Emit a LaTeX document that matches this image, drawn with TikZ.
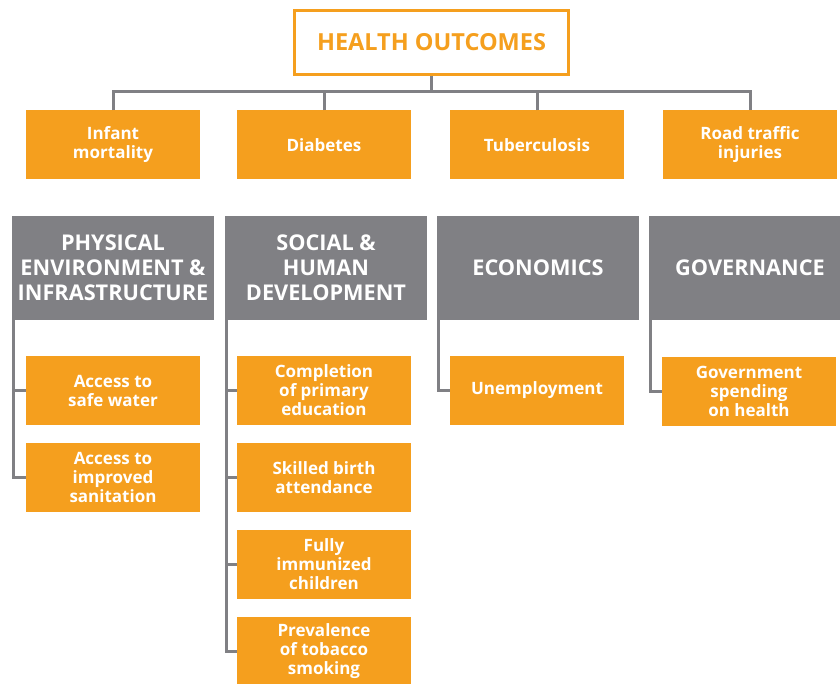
\documentclass[tikz,border=0pt]{standalone}
\usepackage{fontspec}
\setmainfont{Open Sans}
\definecolor{org}{HTML}{F59F1E}
\definecolor{gry}{HTML}{808084}
\begin{document}
\begin{tikzpicture}[x=1pt,y=-1pt,
  topbox/.style={draw=org,line width=3pt,fill=white,minimum width=274pt,minimum height=64pt,inner sep=0pt,
    text=org,font=\fontsize{23.5}{27}\selectfont\bfseries},
  obox/.style={fill=org,minimum width=174pt,minimum height=69pt,inner sep=0pt,text=white,align=center,
    font=\fontsize{17}{19}\selectfont\bfseries},
  gbox/.style={fill=gry,minimum width=202pt,minimum height=104pt,inner sep=0pt,text=white,align=center,
    font=\fontsize{21.7}{25}\selectfont\bfseries},
  conn/.style={draw=gry,line width=3pt}]
\useasboundingbox (0,0) rectangle (840,684);
% top
\node[topbox] (top) at (431.5,42.5) {HEALTH OUTCOMES};
% outcomes
\node[obox] (inf) at (113,145) {Infant\\mortality};
\node[obox] (dia) at (324,145) {Diabetes};
\node[obox] (tub) at (537,145) {Tuberculosis};
\node[obox] (road) at (750,145) {Road traffic\\injuries};
\coordinate (bus) at (431.5,92);
\draw[conn] (top.south) -- (bus);
\draw[conn] (inf.north) |- (bus) -| (road.north);
\draw[conn] (dia.north) -- (dia.north |- bus);
\draw[conn] (tub.north) -- (tub.north |- bus);
% categories
\node[gbox] (phys) at (113,268) {PHYSICAL\\ENVIRONMENT \&\\INFRASTRUCTURE};
\node[gbox] (soc) at (326,268) {SOCIAL \&\\HUMAN\\DEVELOPMENT};
\node[gbox] (eco) at (538,268) {ECONOMICS};
\node[gbox] (gov) at (750,268) {GOVERNANCE};
% physical
\node[obox] (water) at (113,390.5) {Access to\\safe water};
\node[obox] (sanit) at (113,477.5) {Access to\\improved\\sanitation};
% social
\node[obox] (prim) at (324,390) {Completion\\of primary\\education};
\node[obox] (birth) at (324,477.5) {Skilled birth\\attendance};
\node[obox] (immu) at (324,564.5) {Fully\\immunized\\children};
\node[obox] (tob) at (324,651.5) {Prevalence\\of tobacco\\smoking};
% economics
\node[obox] (unem) at (537,390.5) {Unemployment};
% governance
\node[obox] (spend) at (749,391) {Government\\spending\\on health};
% brackets
\coordinate (pb) at ([xshift=2pt]phys.south west);
\coordinate (sb) at ([xshift=2pt]soc.south west);
\coordinate (eb) at ([xshift=2pt]eco.south west);
\coordinate (gb) at ([xshift=2pt]gov.south west);
\draw[conn] (pb) |- (water.west);
\draw[conn] (pb) |- (sanit.west);
\draw[conn] (sb) |- (prim.west);
\draw[conn] (sb) |- (birth.west);
\draw[conn] (sb) |- (immu.west);
\draw[conn] (sb) |- (tob.west);
\draw[conn] (eb) |- (unem.west);
\draw[conn] (gb) |- (spend.west);
\end{tikzpicture}
\end{document}
